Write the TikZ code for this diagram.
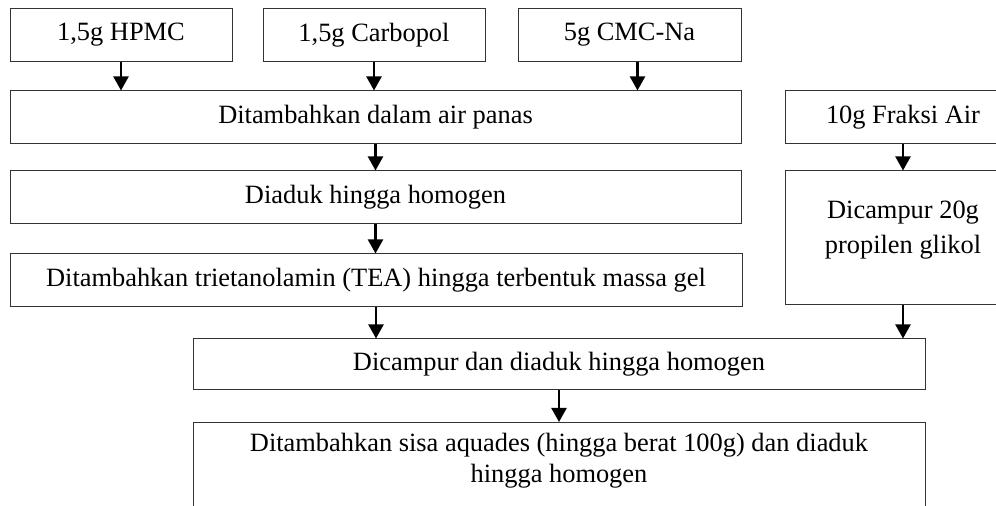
\documentclass[tikz,border=0pt]{standalone}
\usepackage{fontspec}
\setmainfont{Liberation Serif}
\usetikzlibrary{positioning,arrows.meta}

\begin{document}
\begin{tikzpicture}[x=0.5pt, y=-0.5pt,
  box/.style={rectangle, draw=black!80, fill=white, line width=0.5pt,
              font=\fontsize{13.2}{15.5}\selectfont, minimum width=#1,
              minimum height=26.5pt, inner sep=0pt, align=center},
  ar/.style={-{Triangle[length=7pt, width=7.5pt]}, line width=1.1pt},
]
\useasboundingbox (0,0) rectangle (996,506);
\clip (0,0) rectangle (996,506);

% bahan awal
\node[box=111pt]   (hpmc)  at (121, 35) {1,5g HPMC};
\node[box=111pt]   (carbo) at (374, 35) {1,5g Carbopol};
\node[box=111.5pt] (cmc)   at (629.5, 35) {5g CMC-Na};

\node[box=365.5pt] (panas) at (375.5,117.5) {Ditambahkan dalam air panas};
\node[box=365.5pt] (aduk)  at (375.5,197.5) {Diaduk hingga homogen};
\node[box=366pt]   (tea)   at (376,280.5)
    {Ditambahkan trietanolamin (TEA) hingga terbentuk massa gel};

% fraksi air
\node[box=118pt] (fraksi) at (903,117.5) {10g Fraksi Air};
\node[box=118pt, minimum height=67pt, text depth=11pt,
      font=\fontsize{13.2}{17.5}\selectfont] (glikol) at (903,238)
    {Dicampur 20g\\propilen glikol};

\node[box=366pt, minimum height=25.5pt] (campur) at (559,364.5)
    {Dicampur dan diaduk hingga homogen};
\node[box=366pt, anchor=north, inner ysep=5.5pt, text depth=40pt] (sisa) at (559,422)
    {Ditambahkan sisa aquades (hingga berat 100g) dan diaduk\\hingga homogen};

\foreach \s in {hpmc,carbo}
  \draw[ar] (\s.south) -- (\s.south |- panas.north);
\draw[ar] ([xshift=4pt]cmc.south) -- ([xshift=4pt]cmc.south |- panas.north);
\draw[ar] (panas.south) -- (aduk.north);
\draw[ar] (aduk.south) -- (aduk.south |- tea.north);
\draw[ar] (tea.south) -- (tea.south |- campur.north);
\draw[ar] (fraksi.south) -- (glikol.north);
\draw[ar] (glikol.south) -- (glikol.south |- campur.north);
\draw[ar] (campur.south) -- (sisa.north);
\end{tikzpicture}
\end{document}
